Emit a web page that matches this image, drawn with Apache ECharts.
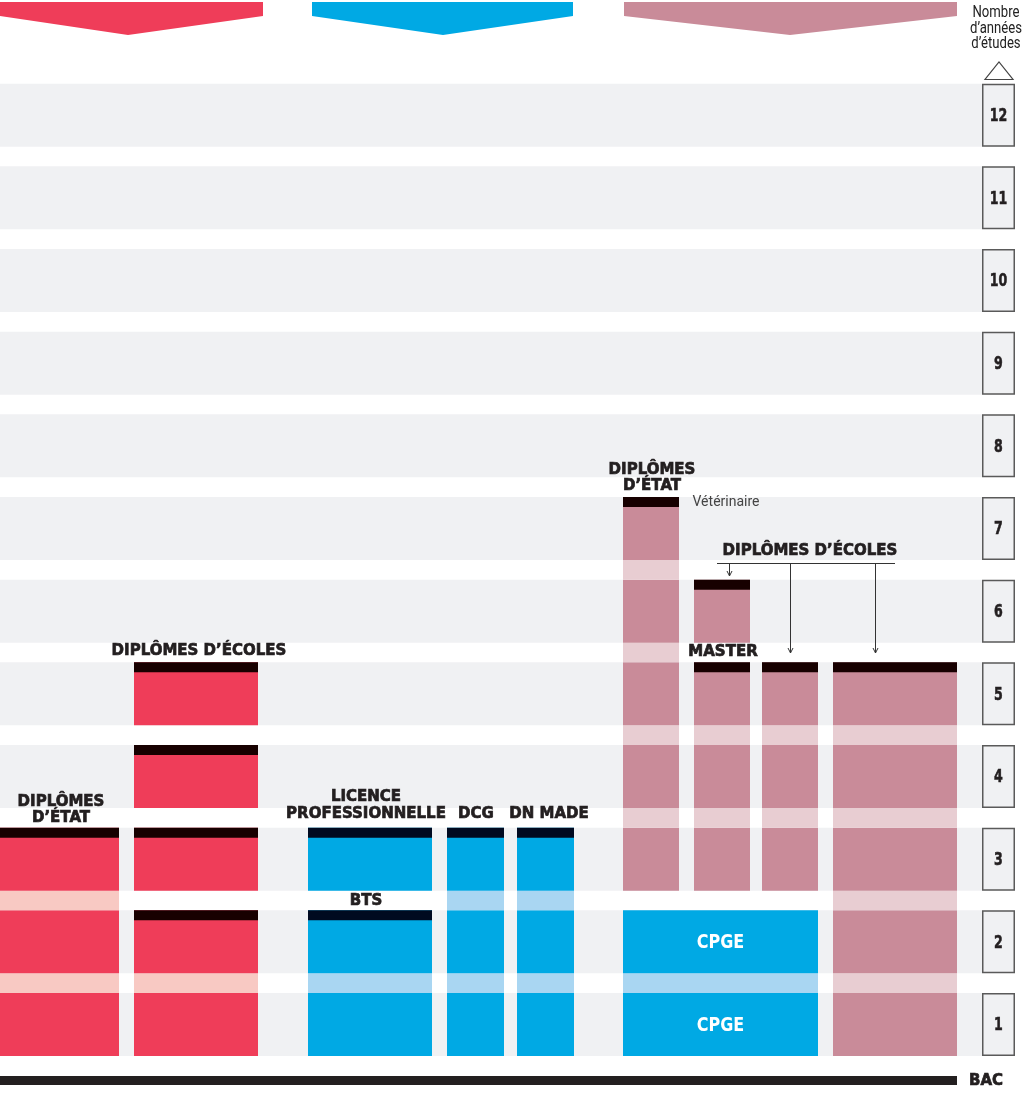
<!DOCTYPE html>
<html>
<head>
<meta charset="utf-8">
<script src="https://cdn.jsdelivr.net/npm/echarts@6/dist/echarts.min.js"></script>
<style>
html,body{margin:0;padding:0;background:#ffffff;}
#main{width:1030px;height:1096px;}
</style>
</head>
<body>
<div id="main"></div>
<script>
// ---------- DATA ----------
const yearTicks = ['1','2','3','4','5','6','7','8','9','10','11','12'];
const axisTitle = ['Nombre', 'd\u2019années', 'd\u2019études'];
const baseLabel = 'BAC';

// each block = one diploma path (column, first year, last year)
const blockProgram = [
  "Diplômes d'État", "Diplômes d'écoles", "Diplômes d'écoles", "Diplômes d'écoles", "Diplômes d'écoles",
  'BTS', 'Licence professionnelle', 'DCG', 'DN MADE',
  'CPGE', "Diplômes d'État (Vétérinaire)", 'Master', "Diplômes d'écoles", 'Master / Diplômes d\u2019écoles', "Diplômes d'écoles"
];
const blockSection   = ['red','red','red','red','red','blue','blue','blue','blue','blue','mauve','mauve','mauve','mauve','mauve'];
const blockColumn    = [0, 1, 1, 1, 1, 2, 2, 3, 4, 5, 6, 7, 7, 8, 9];
const blockStartYear = [1, 1, 3, 4, 5, 1, 3, 1, 1, 1, 3, 3, 6, 3, 1];
const blockEndYear   = [3, 2, 3, 4, 5, 2, 3, 3, 3, 2, 7, 5, 6, 5, 5];
const blockCapped    = [1, 1, 1, 1, 1, 1, 1, 1, 1, 0, 1, 1, 1, 1, 1];
const blockInnerText = ['', '', '', '', '', '', '', '', '', 'CPGE', '', '', '', '', ''];

// ---------- LAYOUT / STYLE ----------
const columnX = [[0,119],[134,258],[308,432],[447,504],[517,574],[623,818],[623,679],[694,750],[762,818],[833,957]];
const BAND = 0.762;           // share of a year occupied by the grey band
const CAP_PX = 10;
const palette = {
  red:   {main:'#ef3d59', light:'#f8c9c3', cap:'#170000'},
  blue:  {main:'#00a9e4', light:'#a9d6f2', cap:'#000a20'},
  mauve: {main:'#c98b99', light:'#e8cdd2', cap:'#170000'}
};
const INK = '#231f20';
const HEAVY = 'bold 15px "DejaVu Sans", sans-serif';

const chart = echarts.init(document.getElementById('main'));

function centered(extra) {
  return Object.assign({align:'center', verticalAlign:'middle', textAlign:'center', textVerticalAlign:'middle'}, extra);
}

function bandsRender(params, api) {
  const k = api.value(0);
  const a = api.coord([0, k - 1]);
  const b = api.coord([982, k - 1 + BAND]);
  const c = api.coord([1015, k - 1 + BAND]);
  return {
    type: 'group',
    children: [
      {type:'rect', shape:{x:a[0], y:b[1], width:b[0]-a[0], height:a[1]-b[1]}, style:{fill:'#f0f1f3'}},
      {type:'rect', shape:{x:b[0]+0.75, y:b[1]+0.75, width:c[0]-b[0]-1.5, height:a[1]-b[1]-1.5},
        style:{fill:'#f0f1f3', stroke:'#5a5a5a', lineWidth:1.5}},
      {type:'text', x:(b[0]+c[0])/2, y:(a[1]+b[1])/2 + 1, scaleX:0.7,
        style:centered({text: yearTicks[k-1], fill: INK, stroke: INK, lineWidth: 0.6,
          font: 'bold 18px "DejaVu Sans", sans-serif'})}
    ]
  };
}

function blocksRender(params, api) {
  const i = params.dataIndex;
  const col = columnX[blockColumn[i]];
  const s = blockStartYear[i], e = blockEndYear[i];
  const pal = palette[blockSection[i]];
  const children = [];
  for (let y = s; y <= e; y++) {
    const p = api.coord([col[0], y - 1]);
    const q = api.coord([col[1], y - 1 + BAND]);
    children.push({type:'rect', shape:{x:p[0], y:q[1], width:q[0]-p[0], height:p[1]-q[1]}, style:{fill:pal.main}});
    if (blockInnerText[i]) {
      children.push({type:'text', x:(p[0]+q[0])/2, y:(p[1]+q[1])/2 + 1, scaleX:0.8,
        style:centered({text: blockInnerText[i], fill:'#ffffff', font:'bold 20px "DejaVu Sans", sans-serif'})});
    }
    if (y < e) {
      const g = api.coord([col[1], y]);
      children.push({type:'rect', shape:{x:p[0], y:g[1], width:q[0]-p[0], height:q[1]-g[1]}, style:{fill:pal.light}});
    }
  }
  if (blockCapped[i]) {
    const t = api.coord([col[0], e - 1 + BAND]);
    const r = api.coord([col[1], e - 1 + BAND]);
    children.push({type:'rect', shape:{x:t[0], y:t[1], width:r[0]-t[0], height:CAP_PX}, style:{fill:pal.cap}});
  }
  return {type:'group', children};
}

function txt(text, x, y, font, fill, opts) {
  const heavy = !font;
  const st = centered({text, font: font || HEAVY, fill: fill || INK});
  if (heavy) { st.stroke = INK; st.lineWidth = 0.7; }
  return Object.assign({type:'text', x, y, z:10, style:st}, opts || {});
}
function arrowDown(x, y0, y1) {
  return [
    {type:'line', z:10, shape:{x1:x, y1:y0, x2:x, y2:y1}, style:{stroke:'#333', lineWidth:1}},
    {type:'polyline', z:10, shape:{points:[[x-2.5, y1-5],[x, y1],[x+2.5, y1-5]]}, style:{stroke:'#333', lineWidth:1, fill:null}}
  ];
}

const NARROWFONT = '16px Roboto, sans-serif';
const graphics = [
  {type:'polygon', shape:{points:[[0,2],[263,2],[263,16],[128,35],[0,16]]}, style:{fill:palette.red.main}},
  {type:'polygon', shape:{points:[[312,2],[573,2],[573,16],[443,35],[312,16]]}, style:{fill:palette.blue.main}},
  {type:'polygon', shape:{points:[[624,2],[957,2],[957,16],[790,35],[624,16]]}, style:{fill:palette.mauve.main}},
  txt(axisTitle[0], 996, 13, NARROWFONT, '#222', {scaleX:0.82}),
  txt(axisTitle[1], 996, 29, NARROWFONT, '#222', {scaleX:0.82}),
  txt(axisTitle[2], 996, 44, NARROWFONT, '#222', {scaleX:0.82}),
  {type:'polygon', shape:{points:[[985,79.5],[1013,79.5],[999,62]]}, style:{fill:'#ffffff', stroke:'#444', lineWidth:1.2}},
  {type:'rect', shape:{x:0, y:1076, width:957, height:9}, style:{fill:INK}},
  txt(baseLabel, 986, 1081),
  // annotations
  txt('DIPLÔMES D\u2019ÉCOLES', 199, 651),
  txt('DIPLÔMES', 61, 802), txt('D\u2019ÉTAT', 61, 818),
  txt('LICENCE', 366, 797), txt('PROFESSIONNELLE', 366, 814),
  txt('DCG', 476, 814), txt('DN MADE', 549, 814),
  txt('BTS', 366, 901),
  txt('DIPLÔMES', 652, 470), txt('D\u2019ÉTAT', 652, 486),
  txt('Vétérinaire', 726, 502, '14px Roboto, sans-serif', '#444'),
  txt('DIPLÔMES D\u2019ÉCOLES', 810, 551),
  txt('MASTER', 723, 652),
  {type:'line', z:10, shape:{x1:717, y1:563.5, x2:895, y2:563.5}, style:{stroke:'#333', lineWidth:1}},
  ...arrowDown(729.5, 563.5, 576),
  ...arrowDown(790.5, 563.5, 653),
  ...arrowDown(875.5, 563.5, 653)
];

chart.setOption({
  animation: false,
  grid: {left:0, right:0, top:64, bottom:40},
  xAxis: {type:'value', min:0, max:1030, show:false},
  yAxis: {type:'value', min:0, max:12, interval:1, show:false},
  series: [
    {type:'custom', name:'années', renderItem:bandsRender, data: yearTicks.map((t, i) => [i + 1]), z:1, silent:true},
    {type:'custom', name:'diplômes', renderItem:blocksRender,
      data: blockProgram.map((p, i) => [blockStartYear[i], blockEndYear[i]]), z:2, silent:true}
  ],
  graphic: graphics
});
</script>
</body>
</html>
